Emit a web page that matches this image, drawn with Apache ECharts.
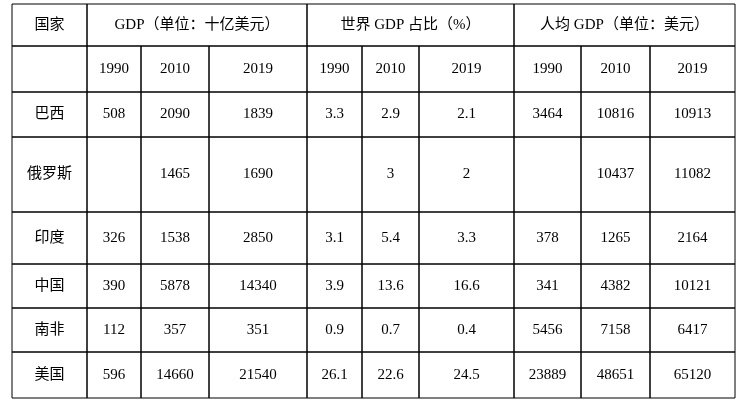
<!DOCTYPE html>
<html><head><meta charset="utf-8">
<script src="https://cdn.jsdelivr.net/npm/echarts@6/dist/echarts.min.js"></script>
<style>body{margin:0;background:#fff}#c{width:743px;height:403px}</style>
</head><body><div id="c"></div>
<script>
var groupHeaders = ['GDP（单位：十亿美元）', '世界 GDP 占比（%）', '人均 GDP（单位：美元）'];
var years = ['1990', '2010', '2019'];
var countries = ['巴西', '俄罗斯', '印度', '中国', '南非', '美国'];
var gdp = [['508', '2090', '1839'], ['', '1465', '1690'], ['326', '1538', '2850'],
  ['390', '5878', '14340'], ['112', '357', '351'], ['596', '14660', '21540']];
var share = [['3.3', '2.9', '2.1'], ['', '3', '2'], ['3.1', '5.4', '3.3'],
  ['3.9', '13.6', '16.6'], ['0.9', '0.7', '0.4'], ['26.1', '22.6', '24.5']];
var perCapita = [['3464', '10816', '10913'], ['', '10437', '11082'], ['378', '1265', '2164'],
  ['341', '4382', '10121'], ['5456', '7158', '6417'], ['23889', '48651', '65120']];

// layout (pixel units on hidden value axes)
var colEdges = [12, 87, 141, 209, 307, 362, 419, 514, 581, 650, 735];
var rowEdges = [4, 46, 92, 137, 212, 264, 308, 352, 398];

// cells: [c0, c1, r0, r1, text]
var cells = [[0, 1, 0, 1, '国家'], [0, 1, 1, 2, '']];
groupHeaders.forEach(function (h, g) {
  cells.push([1 + g * 3, 4 + g * 3, 0, 1, h]);
  years.forEach(function (y, k) { cells.push([1 + g * 3 + k, 2 + g * 3 + k, 1, 2, y]); });
});
countries.forEach(function (name, i) {
  var r = i + 2;
  cells.push([0, 1, r, r + 1, name]);
  [gdp, share, perCapita].forEach(function (arr, g) {
    arr[i].forEach(function (v, k) { cells.push([1 + g * 3 + k, 2 + g * 3 + k, r, r + 1, v]); });
  });
});

function renderCell(params, api) {
  var c = cells[params.dataIndex];
  var p0 = api.coord([colEdges[c[0]], rowEdges[c[2]]]);
  var p1 = api.coord([colEdges[c[1]], rowEdges[c[3]]]);
  return {
    type: 'group',
    children: [
      { type: 'rect', shape: { x: p0[0], y: p0[1], width: p1[0] - p0[0], height: p1[1] - p0[1] },
        style: { fill: 'none', stroke: '#000', lineWidth: 1 } },
      { type: 'text', x: (p0[0] + p1[0]) / 2, y: (p0[1] + p1[1]) / 2,
        style: { text: c[4], align: 'center', verticalAlign: 'middle', fill: '#000',
          font: '15px "Liberation Serif", "Noto Sans CJK SC", serif' } }
    ]
  };
}

var chart = echarts.init(document.getElementById('c'));
chart.setOption({
  animation: false,
  grid: { left: 0, right: 0, top: 0, bottom: 0 },
  xAxis: { type: 'value', min: 0, max: 743, show: false },
  yAxis: { type: 'value', min: 0, max: 403, inverse: true, show: false },
  series: [{
    type: 'custom', renderItem: renderCell, silent: true,
    data: cells.map(function (c, i) { return [colEdges[c[0]], rowEdges[c[2]], i]; })
  }]
});
</script></body></html>
